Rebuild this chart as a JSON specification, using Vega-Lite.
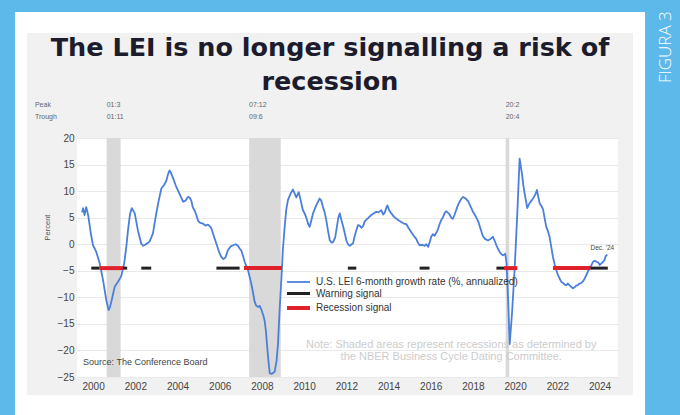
{
 "$schema": "https://vega.github.io/schema/vega-lite/v6.json",
 "background": "#f1f1f1",
 "padding": 0,
 "spacing": 0,
 "bounds": "flush",
 "align": "each",
 "columns": 7,
 "data": {"values": [{}]},
 "config": {
  "view": {"stroke": null},
  "axis": {"labelOverlap": false, "labelBound": false},
  "axisY": {"labelOverlap": false, "labelFont": "Liberation Sans", "labelFontSize": 10, "labelColor": "#444444", "ticks": false, "domain": false, "gridColor": "#e9e9e9", "labelPadding": 3},
  "axisX": {"labelOverlap": false, "labelFont": "Liberation Sans", "labelFontSize": 10, "labelColor": "#444444", "ticks": false, "domain": false, "grid": false, "labelPadding": 4}
 },
 "datasets": {
  "rec": [
   {"s": 2001.17, "e": 2001.83, "p": "01:3", "tr": "01:11"},
   {"s": 2007.92, "e": 2009.42, "p": "07:12", "tr": "09:6"},
   {"s": 2020.08, "e": 2020.25, "p": "20:2", "tr": "20:4"}
  ],
  "sig": [
   {"s": 2000.44, "e": 2000.84, "k": "Warning signal"},
   {"s": 2000.84, "e": 2001.94, "k": "Recession signal"},
   {"s": 2001.94, "e": 2002.14, "k": "Warning signal"},
   {"s": 2002.81, "e": 2003.28, "k": "Warning signal"},
   {"s": 2006.37, "e": 2007.47, "k": "Warning signal"},
   {"s": 2007.68, "e": 2009.48, "k": "Recession signal"},
   {"s": 2012.6, "e": 2013.0, "k": "Warning signal"},
   {"s": 2016.0, "e": 2016.47, "k": "Warning signal"},
   {"s": 2019.64, "e": 2020.0, "k": "Warning signal"},
   {"s": 2020.0, "e": 2020.63, "k": "Recession signal"},
   {"s": 2022.32, "e": 2024.1, "k": "Recession signal"},
   {"s": 2024.1, "e": 2024.92, "k": "Warning signal"}
  ],
  "lei": [
   {"t":2000.0,"v":6.0},{"t":2000.05,"v":6.8},{"t":2000.12,"v":5.5},{"t":2000.2,"v":7.0},{"t":2000.3,"v":5.3},{"t":2000.42,"v":2.0},{"t":2000.52,"v":-0.2},{"t":2000.6,"v":-0.8},{"t":2000.68,"v":-1.5},{"t":2000.84,"v":-3.6},
   {"t":2001.0,"v":-6.8},{"t":2001.15,"v":-10.5},{"t":2001.26,"v":-12.4},{"t":2001.33,"v":-11.8},{"t":2001.42,"v":-10.3},{"t":2001.55,"v":-8.0},{"t":2001.7,"v":-7.1},{"t":2001.86,"v":-6.0},
   {"t":2002.0,"v":-3.6},{"t":2002.1,"v":-0.5},{"t":2002.18,"v":2.6},{"t":2002.28,"v":5.8},{"t":2002.36,"v":6.8},{"t":2002.5,"v":5.8},{"t":2002.65,"v":2.6},{"t":2002.81,"v":0.1},{"t":2002.9,"v":-0.3},
   {"t":2003.0,"v":-0.1},{"t":2003.1,"v":0.2},{"t":2003.2,"v":0.5},{"t":2003.36,"v":2.0},{"t":2003.52,"v":5.8},{"t":2003.65,"v":8.5},{"t":2003.76,"v":10.5},{"t":2003.9,"v":11.2},
   {"t":2004.0,"v":12.0},{"t":2004.08,"v":13.2},{"t":2004.15,"v":13.9},{"t":2004.22,"v":13.4},{"t":2004.31,"v":12.5},{"t":2004.45,"v":11.0},{"t":2004.55,"v":10.1},{"t":2004.7,"v":8.8},{"t":2004.79,"v":8.0},{"t":2004.9,"v":8.2},
   {"t":2005.02,"v":8.9},{"t":2005.1,"v":8.8},{"t":2005.18,"v":8.2},{"t":2005.25,"v":7.0},{"t":2005.34,"v":6.3},{"t":2005.42,"v":5.5},{"t":2005.5,"v":4.4},{"t":2005.6,"v":4.0},{"t":2005.73,"v":3.9},{"t":2005.85,"v":3.5},{"t":2005.97,"v":3.7},
   {"t":2006.05,"v":3.4},{"t":2006.13,"v":3.0},{"t":2006.25,"v":1.5},{"t":2006.37,"v":0.1},{"t":2006.5,"v":-1.5},{"t":2006.6,"v":-2.4},{"t":2006.7,"v":-2.8},{"t":2006.8,"v":-2.5},{"t":2006.92,"v":-1.1},
   {"t":2007.05,"v":-0.4},{"t":2007.16,"v":-0.2},{"t":2007.28,"v":0.0},{"t":2007.39,"v":-0.3},{"t":2007.47,"v":-0.8},{"t":2007.55,"v":-1.2},{"t":2007.63,"v":-2.2},{"t":2007.71,"v":-3.3},{"t":2007.87,"v":-4.9},
   {"t":2008.02,"v":-7.4},{"t":2008.1,"v":-9.0},{"t":2008.18,"v":-10.8},{"t":2008.26,"v":-11.6},{"t":2008.34,"v":-11.8},{"t":2008.42,"v":-11.6},{"t":2008.5,"v":-12.3},{"t":2008.6,"v":-13.5},{"t":2008.66,"v":-14.5},{"t":2008.72,"v":-16.5},{"t":2008.78,"v":-19.5},{"t":2008.85,"v":-22.5},{"t":2008.9,"v":-24.3},
   {"t":2009.0,"v":-24.4},{"t":2009.13,"v":-24.0},{"t":2009.22,"v":-22.0},{"t":2009.29,"v":-18.7},{"t":2009.37,"v":-12.0},{"t":2009.45,"v":-6.5},{"t":2009.52,"v":-1.0},{"t":2009.6,"v":3.0},{"t":2009.68,"v":6.5},{"t":2009.76,"v":8.3},{"t":2009.85,"v":9.2},{"t":2009.92,"v":9.8},
   {"t":2010.0,"v":10.3},{"t":2010.05,"v":9.8},{"t":2010.16,"v":8.8},{"t":2010.27,"v":9.8},{"t":2010.35,"v":8.5},{"t":2010.47,"v":6.4},{"t":2010.55,"v":5.8},{"t":2010.63,"v":5.0},{"t":2010.72,"v":3.8},{"t":2010.79,"v":3.3},{"t":2010.87,"v":4.5},{"t":2010.95,"v":5.8},
   {"t":2011.1,"v":7.3},{"t":2011.26,"v":8.6},{"t":2011.34,"v":8.2},{"t":2011.42,"v":7.0},{"t":2011.5,"v":6.0},{"t":2011.58,"v":4.5},{"t":2011.66,"v":2.5},{"t":2011.74,"v":0.8},{"t":2011.82,"v":0.3},{"t":2011.9,"v":0.4},
   {"t":2012.0,"v":1.3},{"t":2012.08,"v":3.3},{"t":2012.15,"v":5.0},{"t":2012.22,"v":5.8},{"t":2012.29,"v":4.6},{"t":2012.4,"v":3.0},{"t":2012.53,"v":0.7},{"t":2012.62,"v":-0.1},{"t":2012.69,"v":-0.3},{"t":2012.78,"v":0.0},{"t":2012.85,"v":0.2},{"t":2012.92,"v":1.5},
   {"t":2013.0,"v":2.6},{"t":2013.08,"v":3.6},{"t":2013.16,"v":3.5},{"t":2013.24,"v":3.1},{"t":2013.32,"v":3.4},{"t":2013.4,"v":4.3},{"t":2013.47,"v":4.6},{"t":2013.58,"v":5.0},{"t":2013.71,"v":5.5},{"t":2013.82,"v":5.8},{"t":2013.95,"v":6.1},
   {"t":2014.05,"v":6.0},{"t":2014.18,"v":6.4},{"t":2014.28,"v":5.6},{"t":2014.34,"v":5.9},{"t":2014.42,"v":6.8},{"t":2014.47,"v":7.3},{"t":2014.55,"v":6.5},{"t":2014.66,"v":5.8},{"t":2014.78,"v":5.2},{"t":2014.9,"v":4.8},
   {"t":2015.0,"v":4.5},{"t":2015.13,"v":4.2},{"t":2015.25,"v":3.9},{"t":2015.37,"v":3.8},{"t":2015.48,"v":3.0},{"t":2015.6,"v":2.3},{"t":2015.72,"v":1.6},{"t":2015.84,"v":1.0},{"t":2015.92,"v":0.3},
   {"t":2016.0,"v":-0.2},{"t":2016.12,"v":-0.1},{"t":2016.24,"v":-0.3},{"t":2016.32,"v":0.0},{"t":2016.4,"v":-0.5},{"t":2016.48,"v":0.4},{"t":2016.55,"v":1.4},{"t":2016.63,"v":1.9},{"t":2016.71,"v":1.6},{"t":2016.8,"v":2.2},{"t":2016.87,"v":2.8},{"t":2016.95,"v":3.8},
   {"t":2017.03,"v":4.6},{"t":2017.1,"v":5.0},{"t":2017.2,"v":6.0},{"t":2017.27,"v":6.2},{"t":2017.35,"v":5.9},{"t":2017.42,"v":5.6},{"t":2017.5,"v":5.0},{"t":2017.58,"v":4.8},{"t":2017.66,"v":5.6},{"t":2017.74,"v":6.5},{"t":2017.82,"v":7.4},{"t":2017.9,"v":8.0},{"t":2017.98,"v":8.6},
   {"t":2018.06,"v":8.9},{"t":2018.14,"v":8.7},{"t":2018.21,"v":8.5},{"t":2018.3,"v":8.1},{"t":2018.37,"v":7.5},{"t":2018.45,"v":6.8},{"t":2018.53,"v":6.1},{"t":2018.65,"v":5.3},{"t":2018.77,"v":4.4},{"t":2018.88,"v":3.0},
   {"t":2019.0,"v":1.5},{"t":2019.1,"v":1.0},{"t":2019.24,"v":0.7},{"t":2019.36,"v":1.0},{"t":2019.48,"v":1.4},{"t":2019.56,"v":0.6},{"t":2019.64,"v":-0.2},{"t":2019.72,"v":-0.9},{"t":2019.8,"v":-1.5},{"t":2019.88,"v":-1.9},{"t":2019.95,"v":-2.1},
   {"t":2020.06,"v":-1.8},{"t":2020.12,"v":-3.5},{"t":2020.18,"v":-9.0},{"t":2020.27,"v":-18.8},{"t":2020.38,"v":-13.0},{"t":2020.5,"v":-5.0},{"t":2020.63,"v":5.8},{"t":2020.74,"v":16.1},{"t":2020.85,"v":13.3},{"t":2020.92,"v":11.0},{"t":2020.98,"v":9.5},
   {"t":2021.05,"v":8.0},{"t":2021.1,"v":6.8},{"t":2021.18,"v":7.5},{"t":2021.26,"v":8.0},{"t":2021.34,"v":8.4},{"t":2021.42,"v":8.9},{"t":2021.5,"v":9.5},{"t":2021.56,"v":10.2},{"t":2021.62,"v":9.0},{"t":2021.69,"v":7.7},{"t":2021.77,"v":7.2},{"t":2021.85,"v":6.6},{"t":2021.92,"v":5.0},
   {"t":2022.0,"v":3.3},{"t":2022.08,"v":2.5},{"t":2022.16,"v":1.4},{"t":2022.24,"v":-0.5},{"t":2022.32,"v":-2.4},{"t":2022.4,"v":-3.8},{"t":2022.48,"v":-4.9},{"t":2022.56,"v":-5.8},{"t":2022.64,"v":-6.5},{"t":2022.72,"v":-7.1},{"t":2022.8,"v":-7.3},{"t":2022.88,"v":-7.6},{"t":2022.95,"v":-7.7},
   {"t":2023.03,"v":-7.4},{"t":2023.1,"v":-7.7},{"t":2023.18,"v":-8.0},{"t":2023.27,"v":-8.3},{"t":2023.35,"v":-8.1},{"t":2023.42,"v":-7.8},{"t":2023.5,"v":-7.7},{"t":2023.58,"v":-7.4},{"t":2023.66,"v":-7.3},{"t":2023.74,"v":-7.0},{"t":2023.82,"v":-6.5},{"t":2023.9,"v":-5.8},{"t":2023.98,"v":-5.1},
   {"t":2024.06,"v":-4.6},{"t":2024.14,"v":-4.0},{"t":2024.22,"v":-3.3},{"t":2024.3,"v":-3.1},{"t":2024.38,"v":-3.3},{"t":2024.46,"v":-3.4},{"t":2024.54,"v":-3.9},{"t":2024.62,"v":-3.6},{"t":2024.7,"v":-3.3},{"t":2024.76,"v":-3.0},{"t":2024.82,"v":-2.2},{"t":2024.9,"v":-2.0}
  ]
 },
 "concat": [
  {"width": 15, "height": 12, "view": {"fill": "#5cb9ea", "stroke": null}, "mark": {"type": "text", "text": ""}},
  {"width": 12, "height": 12, "view": {"fill": "#5cb9ea", "stroke": null}, "mark": {"type": "text", "text": ""}},
  {"width": 50, "height": 12, "view": {"fill": "#5cb9ea", "stroke": null}, "mark": {"type": "text", "text": ""}},
  {"width": 541, "height": 12, "view": {"fill": "#5cb9ea", "stroke": null}, "mark": {"type": "text", "text": ""}},
  {"width": 15, "height": 12, "view": {"fill": "#5cb9ea", "stroke": null}, "mark": {"type": "text", "text": ""}},
  {"width": 12, "height": 12, "view": {"fill": "#5cb9ea", "stroke": null}, "mark": {"type": "text", "text": ""}},
  {"width": 35, "height": 12, "view": {"fill": "#5cb9ea", "stroke": null}, "mark": {"type": "text", "text": ""}},

  {"width": 15, "height": 21, "view": {"fill": "#5cb9ea", "stroke": null}, "mark": {"type": "text", "text": ""}},
  {"width": 12, "height": 21, "view": {"fill": "#ffffff", "stroke": null}, "mark": {"type": "text", "text": ""}},
  {"width": 50, "height": 21, "view": {"fill": "#ffffff", "stroke": null}, "mark": {"type": "text", "text": ""}},
  {"width": 541, "height": 21, "view": {"fill": "#ffffff", "stroke": null}, "mark": {"type": "text", "text": ""}},
  {"width": 15, "height": 21, "view": {"fill": "#ffffff", "stroke": null}, "mark": {"type": "text", "text": ""}},
  {"width": 12, "height": 21, "view": {"fill": "#ffffff", "stroke": null}, "mark": {"type": "text", "text": ""}},
  {"width": 35, "height": 21, "view": {"fill": "#5cb9ea", "stroke": null}, "mark": {"type": "text", "text": ""}},

  {"width": 15, "height": 105, "view": {"fill": "#5cb9ea", "stroke": null}, "mark": {"type": "text", "text": ""}},
  {"width": 12, "height": 105, "view": {"fill": "#ffffff", "stroke": null}, "mark": {"type": "text", "text": ""}},
  {"width": 50, "height": 105, "mark": {"type": "text", "text": ""}},
  {"width": 541, "height": 105, "mark": {"type": "text", "text": ""}},
  {"width": 15, "height": 105, "mark": {"type": "text", "text": ""}},
  {"width": 12, "height": 105, "view": {"fill": "#ffffff", "stroke": null}, "mark": {"type": "text", "text": ""}},
  {"width": 35, "height": 105, "view": {"fill": "#5cb9ea", "stroke": null}, "mark": {"type": "text", "text": "FIGURA 3", "angle": 270, "align": "left", "baseline": "middle", "dx": 2.5, "dy": 3, "color": "#ffffff", "fontSize": 17, "font": "Open Sans", "fontWeight": 300}},

  {"width": 15, "height": 239, "view": {"fill": "#5cb9ea", "stroke": null}, "mark": {"type": "text", "text": ""}},
  {"width": 12, "height": 239, "view": {"fill": "#ffffff", "stroke": null}, "mark": {"type": "text", "text": ""}},
  {"width": 50, "height": 239, "mark": {"type": "text", "text": ""}},
  {
   "width": 541, "height": 239,
   "view": {"fill": "#ffffff", "stroke": null},
   "title": {"text": ["The LEI is no longer signalling a risk of", "recession"], "font": "DejaVu Sans", "fontSize": 25.5, "fontWeight": "bold", "color": "#1c1c2c", "lineHeight": 34, "anchor": "middle", "frame": "group", "dx": -17.5, "offset": 6},
   "layer": [
    {"data": {"name": "rec"}, "mark": {"type": "rect", "color": "#d9d9d9"},
     "encoding": {
      "x": {"field": "s", "type": "quantitative", "scale": {"domain": [1999.763, 2025.403], "nice": false, "zero": false}},
      "x2": {"field": "e"}
     }},
    {"data": {"name": "lei"}, "mark": {"type": "line", "strokeJoin": "round"},
     "encoding": {
      "x": {"field": "t", "type": "quantitative", "scale": {"domain": [1999.763, 2025.403], "nice": false, "zero": false},
            "axis": {"values": [2000,2002,2004,2006,2008,2010,2012,2014,2016,2018,2020,2022,2024], "tickCount": 13, "format": "d", "labelAlign": "left", "labelOverlap": false, "title": null}},
      "y": {"field": "v", "type": "quantitative", "scale": {"domain": [-25, 20], "nice": false, "zero": false},
            "axis": {"values": [-25,-20,-15,-10,-5,0,5,10,15,20], "tickCount": 10, "format": "d", "labelOverlap": false, "grid": true, "title": "Percent", "titleFont": "Liberation Sans", "titleFontSize": 7.5, "titleFontWeight": "normal", "titleColor": "#555555", "titlePadding": 6, "titleY": 89}},
      "color": {"datum": "U.S. LEI 6-month growth rate (%, annualized)", "type": "nominal",
                "scale": {"domain": ["U.S. LEI 6-month growth rate (%, annualized)", "Warning signal", "Recession signal"], "range": ["#4a7fdc", "#222222", "#e0202b"]},
                "legend": {"orient": "none", "legendX": 291.5, "legendY": 276, "title": null, "labelFontSize": 10, "labelLimit": 400, "labelColor": "#333333", "labelFont": "Liberation Sans", "symbolSize": 100, "symbolType": "M-2.3,0L2.3,0", "rowPadding": 0, "labelOffset": 10.5, "padding": 0}},
      "strokeWidth": {"datum": "U.S. LEI 6-month growth rate (%, annualized)", "type": "nominal",
                "scale": {"type": "ordinal", "domain": ["U.S. LEI 6-month growth rate (%, annualized)", "Warning signal", "Recession signal"], "range": [1.8, 3, 4]},
                "legend": {"orient": "none", "legendX": 291.5, "legendY": 276, "title": null, "labelFontSize": 10, "labelLimit": 400, "labelColor": "#333333", "labelFont": "Liberation Sans", "symbolSize": 100, "symbolType": "M-2.3,0L2.3,0", "rowPadding": 0, "labelOffset": 10.5, "padding": 0}}
     }},
    {"data": {"name": "sig"}, "mark": {"type": "rule", "strokeCap": "butt"},
     "encoding": {
      "x": {"field": "s", "type": "quantitative", "scale": {"domain": [1999.763, 2025.403], "nice": false, "zero": false}},
      "x2": {"field": "e"},
      "y": {"datum": -4.5, "type": "quantitative", "scale": {"domain": [-25, 20], "nice": false, "zero": false}},
      "color": {"field": "k", "type": "nominal",
                "scale": {"domain": ["U.S. LEI 6-month growth rate (%, annualized)", "Warning signal", "Recession signal"], "range": ["#4a7fdc", "#222222", "#e0202b"]},
                "legend": {"orient": "none", "legendX": 291.5, "legendY": 276, "title": null, "labelFontSize": 10, "labelLimit": 400, "labelColor": "#333333", "labelFont": "Liberation Sans", "symbolSize": 100, "symbolType": "M-2.3,0L2.3,0", "rowPadding": 0, "labelOffset": 10.5, "padding": 0}},
      "strokeWidth": {"field": "k", "type": "nominal",
                "scale": {"type": "ordinal", "domain": ["U.S. LEI 6-month growth rate (%, annualized)", "Warning signal", "Recession signal"], "range": [1.8, 3, 4]},
                "legend": {"orient": "none", "legendX": 291.5, "legendY": 276, "title": null, "labelFontSize": 10, "labelLimit": 400, "labelColor": "#333333", "labelFont": "Liberation Sans", "symbolSize": 100, "symbolType": "M-2.3,0L2.3,0", "rowPadding": 0, "labelOffset": 10.5, "padding": 0}}
     }},
    {"data": {"name": "rec"}, "mark": {"type": "text", "align": "left", "baseline": "middle", "fontSize": 7, "color": "#666666", "font": "Liberation Sans"},
     "encoding": {
      "x": {"field": "s", "type": "quantitative", "scale": {"domain": [1999.763, 2025.403], "nice": false, "zero": false}},
      "y": {"datum": 26.2, "type": "quantitative", "scale": {"domain": [-25, 20], "nice": false, "zero": false}},
      "text": {"field": "p"}
     }},
    {"data": {"name": "rec"}, "mark": {"type": "text", "align": "left", "baseline": "middle", "fontSize": 7, "color": "#666666", "font": "Liberation Sans"},
     "encoding": {
      "x": {"field": "s", "type": "quantitative", "scale": {"domain": [1999.763, 2025.403], "nice": false, "zero": false}},
      "y": {"datum": 24.0, "type": "quantitative", "scale": {"domain": [-25, 20], "nice": false, "zero": false}},
      "text": {"field": "tr"}
     }},
    {"mark": {"type": "text", "text": "Peak", "align": "left", "baseline": "middle", "fontSize": 7, "color": "#666666", "font": "Liberation Sans"},
     "encoding": {
      "x": {"datum": 1997.77, "type": "quantitative", "scale": {"domain": [1999.763, 2025.403], "nice": false, "zero": false}},
      "y": {"datum": 26.2, "type": "quantitative", "scale": {"domain": [-25, 20], "nice": false, "zero": false}}
     }},
    {"mark": {"type": "text", "text": "Trough", "align": "left", "baseline": "middle", "fontSize": 7, "color": "#666666", "font": "Liberation Sans"},
     "encoding": {
      "x": {"datum": 1997.77, "type": "quantitative", "scale": {"domain": [1999.763, 2025.403], "nice": false, "zero": false}},
      "y": {"datum": 24.0, "type": "quantitative", "scale": {"domain": [-25, 20], "nice": false, "zero": false}}
     }},
    {"mark": {"type": "text", "text": "Source: The Conference Board", "align": "left", "baseline": "middle", "fontSize": 9, "color": "#444444", "font": "Liberation Sans"},
     "encoding": {
      "x": {"datum": 2000.05, "type": "quantitative", "scale": {"domain": [1999.763, 2025.403], "nice": false, "zero": false}},
      "y": {"datum": -22.2, "type": "quantitative", "scale": {"domain": [-25, 20], "nice": false, "zero": false}}
     }},
    {"mark": {"type": "text", "text": "Note: Shaded areas represent recessions as determined by\nthe NBER Business Cycle Dating Committee.", "lineBreak": "\n", "lineHeight": 12, "align": "center", "baseline": "middle", "fontSize": 11, "color": "#cccccc", "font": "Liberation Sans"},
     "encoding": {
      "x": {"datum": 2017.5, "type": "quantitative", "scale": {"domain": [1999.763, 2025.403], "nice": false, "zero": false}},
      "y": {"datum": -19.0, "type": "quantitative", "scale": {"domain": [-25, 20], "nice": false, "zero": false}}
     }},
    {"mark": {"type": "text", "text": "Dec. '24", "align": "left", "baseline": "middle", "fontSize": 6.5, "color": "#444444", "font": "Liberation Sans"},
     "encoding": {
      "x": {"datum": 2024.1, "type": "quantitative", "scale": {"domain": [1999.763, 2025.403], "nice": false, "zero": false}},
      "y": {"datum": -0.8, "type": "quantitative", "scale": {"domain": [-25, 20], "nice": false, "zero": false}}
     }}
   ]
  },
  {"width": 15, "height": 239, "mark": {"type": "text", "text": ""}},
  {"width": 12, "height": 239, "view": {"fill": "#ffffff", "stroke": null}, "mark": {"type": "text", "text": ""}},
  {"width": 35, "height": 239, "view": {"fill": "#5cb9ea", "stroke": null}, "mark": {"type": "text", "text": ""}},

  {"width": 15, "height": 18, "view": {"fill": "#5cb9ea", "stroke": null}, "mark": {"type": "text", "text": ""}},
  {"width": 12, "height": 18, "view": {"fill": "#ffffff", "stroke": null}, "mark": {"type": "text", "text": ""}},
  {"width": 50, "height": 18, "mark": {"type": "text", "text": ""}},
  {"width": 541, "height": 18, "mark": {"type": "text", "text": ""}},
  {"width": 15, "height": 18, "mark": {"type": "text", "text": ""}},
  {"width": 12, "height": 18, "view": {"fill": "#ffffff", "stroke": null}, "mark": {"type": "text", "text": ""}},
  {"width": 35, "height": 18, "view": {"fill": "#5cb9ea", "stroke": null}, "mark": {"type": "text", "text": ""}},

  {"width": 15, "height": 20, "view": {"fill": "#5cb9ea", "stroke": null}, "mark": {"type": "text", "text": ""}},
  {"width": 12, "height": 20, "view": {"fill": "#ffffff", "stroke": null}, "mark": {"type": "text", "text": ""}},
  {"width": 50, "height": 20, "view": {"fill": "#ffffff", "stroke": null}, "mark": {"type": "text", "text": ""}},
  {"width": 541, "height": 20, "view": {"fill": "#ffffff", "stroke": null}, "mark": {"type": "text", "text": ""}},
  {"width": 15, "height": 20, "view": {"fill": "#ffffff", "stroke": null}, "mark": {"type": "text", "text": ""}},
  {"width": 12, "height": 20, "view": {"fill": "#ffffff", "stroke": null}, "mark": {"type": "text", "text": ""}},
  {"width": 35, "height": 20, "view": {"fill": "#5cb9ea", "stroke": null}, "mark": {"type": "text", "text": ""}}
 ]
}
